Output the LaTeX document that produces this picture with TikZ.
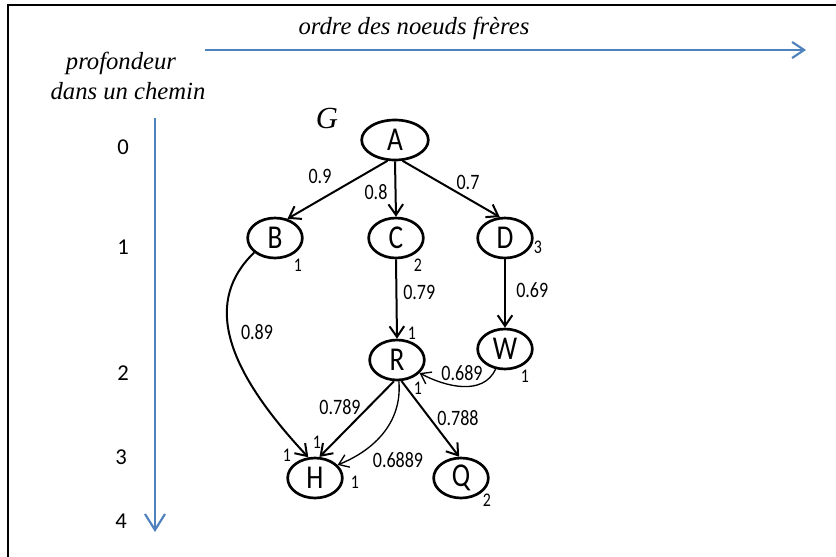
\documentclass[tikz,border=0pt]{standalone}
\usepackage{fontspec}
\setmainfont{Liberation Serif}
\newfontfamily\nodefont[FakeStretch=0.82]{Carlito}
\newfontfamily\depthfont{Carlito}
\definecolor{axisblue}{RGB}{79,129,189}
\usetikzlibrary{arrows.meta,positioning}
\usetikzlibrary{shapes.geometric}

\tikzset{
	vertex/.style={draw, ellipse, line width=2pt, minimum width=41pt, minimum height=30pt, inner sep=0pt, font=\nodefont\fontsize{25}{25}\selectfont},
	link/.style={line width=1.5pt, -{Straight Barb[length=8pt,width=11pt]}},
	thinlink/.style={line width=1pt, -{Straight Barb[length=7pt,width=10pt]}},
	wlabel/.style={inner sep=0pt, font=\nodefont\fontsize{16.5}{16.5}\selectfont},
	tally/.style={inner sep=0pt, font=\nodefont\fontsize{14.5}{14.5}\selectfont},
	depth/.style={inner sep=0pt, font=\depthfont\fontsize{17}{17}\selectfont},
	caption/.style={inner sep=0pt, font=\itshape\fontsize{18.5}{18.5}\selectfont},
	axis/.style={color=axisblue, line width=1.6pt}
}

\begin{document}
\begin{tikzpicture}[x=0.75pt,y=0.75pt,yscale=-1,xscale=1]
	\useasboundingbox (0,0) rectangle (836,557);
	%frame
	\draw [line width=1.8pt] (8,557) -- (8,5) -- (836,5);
	
	%axes
	\coordinate (hx0) at (205,50);
	\coordinate (hx1) at (806,50);
	\coordinate (vy0) at (155,118);
	\coordinate (vy1) at (155,532);
	\draw [axis, -{Straight Barb[length=9pt,width=12pt]}] (hx0) -- (hx1);
	\draw [axis, -{Straight Barb[length=12pt,width=15pt]}] (vy0) -- (vy1);
	
	% Text Node
	\node [caption] (tOrdre) at (414,28) {ordre des noeuds frères};
	\node [caption] (tProf) at (121,63) {profondeur};
	\node [caption] (tChemin) at (128,91) {dans un chemin};
	\node [caption, font=\itshape\fontsize{23}{23}\selectfont] (tG) at (327,118) {G};
	
	%depth numbers
	\node [depth] (d0) at (123,147) {0};
	\node [depth] (d1) at (123,247) {1};
	\node [depth] (d2) at (123,373) {2};
	\node [depth] (d3) at (121,457) {3};
	\node [depth] (d4) at (121,521) {4};
	
	%vertices
	\node [vertex, minimum width=50pt] (A) at (395,140) {A};
	\node [vertex] (B) at (275,238) {B};
	\node [vertex] (C) at (396,238) {C};
	\node [vertex] (D) at (505,238) {D};
	\node [vertex] (R) at (397,360) {R};
	\node [vertex] (W) at (505,349) {W};
	\node [vertex] (H) at (315,478) {H};
	\node [vertex] (Q) at (461,478) {Q};
	
	%links (out/in angles are mirrored by yscale=-1)
	\draw [link] (A.250) -- (B.57);
	\draw [link] (A.south) -- (C.north);
	\draw [link] (A.290) -- (D.104);
	\draw [link] (C.south) -- (R.north);
	\draw [link] (D.south) -- (W.north);
	\draw [link] (B.215) .. controls (205,300) and (222,365) .. (H.108);
	\draw [link] (R.262) -- (H.78);
	\draw [link] (R.282) -- (Q.95);
	\draw [thinlink] (W.245) to [out=115,in=28] (R.-30);
	\draw [thinlink] (R.275) to [out=85,in=-22] (H.30);
	
	%weights
	\node [wlabel] (w9) at (320,176) {0.9};
	\node [wlabel] (w8) at (376,192) {0.8};
	\node [wlabel] (w7) at (468,182) {0.7};
	\node [wlabel, anchor=west] (w79) at (403,292) {0.79};
	\node [wlabel, anchor=west] (w69) at (516,290) {0.69};
	\node [wlabel] (w89) at (257,332) {0.89};
	\node [wlabel] (w689) at (462,373) {0.689};
	\node [wlabel] (w789) at (340,407) {0.789};
	\node [wlabel] (w788) at (458,418) {0.788};
	\node [wlabel] (w6889) at (398,460) {0.6889};
	
	%tallies
	\node [tally] (nB) at (298,265) {1};
	\node [tally] (nC) at (418,265) {2};
	\node [tally] (nD) at (538,247) {3};
	\node [tally] (nRa) at (412,333) {1};
	\node [tally] (nRb) at (418,388) {1};
	\node [tally] (nW) at (525,376) {1};
	\node [tally] (nHa) at (287,455) {1};
	\node [tally] (nHb) at (317,442) {1};
	\node [tally] (nHc) at (355,482) {1};
	\node [tally] (nQ) at (487,500) {2};
	
\end{tikzpicture}
\end{document}
